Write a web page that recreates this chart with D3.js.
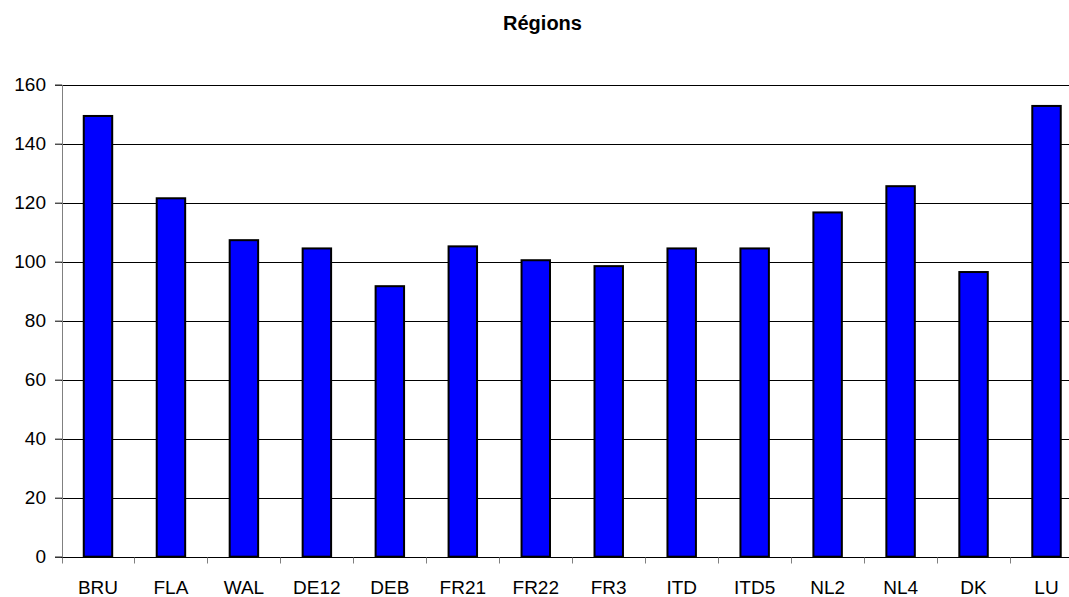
<!DOCTYPE html>
<html>
<head>
<meta charset="utf-8">
<script src="https://cdn.jsdelivr.net/npm/d3@7/dist/d3.min.js"></script>
<style>
  body { margin: 0; background: #fff; overflow: hidden; }
  text { font-family: "Liberation Sans", Arial, sans-serif; }
</style>
</head>
<body>
<div id="chart"></div>
<script>
let categories = ['BRU', 'FLA', 'WAL', 'DE12', 'DEB', 'FR21', 'FR22', 'FR3', 'ITD', 'ITD5', 'NL2', 'NL4', 'DK', 'LU']
let values = [149.4, 121.5, 107.3, 104.5, 91.7, 105.2, 100.5, 98.5, 104.5, 104.5, 116.7, 125.6, 96.5, 152.8]
let yTicks = [0, 20, 40, 60, 80, 100, 120, 140, 160]
let title = 'Régions'

let svgWidth = 1069
let svgHeight = 597
// plot area runs a bit past the right edge of the window, as in the original
let padding = { 'left': 61.5, 'right': -14, 'top': 84.7, 'bottom': 40.3 }

let svg = d3.select('#chart').append('svg')
    .attr('width', svgWidth)
    .attr('height', svgHeight)

let x = d3.scaleBand()
    .domain(categories)
    .range([padding.left, svgWidth - padding.right])

let y = d3.scaleLinear()
    .domain([0, 160])
    .range([svgHeight - padding.bottom, padding.top])

// gridlines
svg.append('g')
    .selectAll('line')
    .data(yTicks.filter(d => d > 0))
    .enter()
    .append('line')
    .attr('x1', padding.left)
    .attr('x2', svgWidth - padding.right)
    .attr('y1', d => Math.round(y(d)) + 0.5)
    .attr('y2', d => Math.round(y(d)) + 0.5)
    .attr('stroke', '#000')
    .attr('stroke-width', 1)

// bars
let barW = x.bandwidth() * 0.39
svg.append('g')
    .selectAll('rect')
    .data(values)
    .enter()
    .append('rect')
    .attr('x', (d, i) => x(categories[i]) + (x.bandwidth() - barW) / 2)
    .attr('y', d => y(d))
    .attr('width', barW)
    .attr('height', d => y(0) - y(d))
    .attr('fill', '#0000ff')
    .attr('stroke', '#000')
    .attr('stroke-width', 2)

// y axis
let axis_y = d3.axisLeft(y)
    .tickValues(yTicks)
    .tickSize(7)
    .tickPadding(9)
    .tickFormat(d => d)
let gy = svg.append('g')
    .attr('transform', `translate(${padding.left + 0.5}, 0)`)
    .call(axis_y)
gy.select('.domain').attr('stroke', '#808080')
gy.selectAll('.tick line').attr('stroke', '#000')
gy.selectAll('text')
    .attr('font-size', '19px')
    .attr('fill', '#000')

// x axis
let gx = svg.append('g')
    .attr('transform', `translate(0, ${Math.round(y(0)) + 0.5})`)
gx.append('line')
    .attr('x1', padding.left)
    .attr('x2', svgWidth - padding.right)
    .attr('stroke', '#000')
gx.selectAll('.tk')
    .data(categories)
    .enter()
    .append('line')
    .attr('class', 'tk')
    .attr('x1', d => Math.round(x(d)) + 0.5)
    .attr('x2', d => Math.round(x(d)) + 0.5)
    .attr('y1', 0)
    .attr('y2', 6)
    .attr('stroke', '#808080')
gx.selectAll('text')
    .data(categories)
    .enter()
    .append('text')
    .attr('x', d => x(d) + x.bandwidth() / 2)
    .attr('y', 36)
    .attr('text-anchor', 'middle')
    .attr('font-size', '19px')
    .text(d => d)

// title
svg.append('text')
    .attr('x', 542.5)
    .attr('y', 30)
    .attr('text-anchor', 'middle')
    .attr('font-size', '20px')
    .attr('font-weight', 'bold')
    .text(title)
</script>
</body>
</html>
